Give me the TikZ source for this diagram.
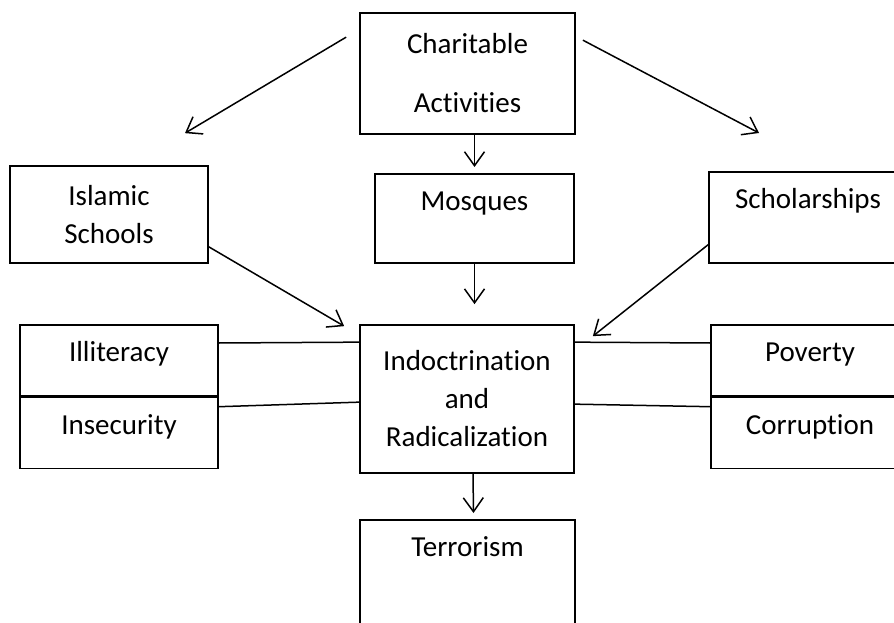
\documentclass[tikz,border=0pt]{standalone}
\usepackage{fontspec}
\setmainfont{Carlito}[Ligatures=NoCommon]
\usetikzlibrary{arrows.meta}

\begin{document}
\begin{tikzpicture}[
    x=1pt, y=-1pt,
    font=\fontsize{29}{38}\selectfont,
    box/.style={draw=black, line width=1.7pt, inner sep=0pt, align=center},
    topbox/.style={box, text height=37pt},
    side_box/.style={box, minimum width=198pt, text height=37pt, text depth=34pt},
    link/.style={draw=black, line width=1.5pt},
    arr/.style={link, -{Straight Barb[length=14pt, width=20pt, line width=1.5pt]}}
]
\useasboundingbox (0,0) rectangle (894,623);

% TOP ROW
\node[box, minimum width=215pt, minimum height=121pt] (charit) at (467.5,73.5) {Charitable\\[21pt]Activities};
\node[box, minimum width=198pt, minimum height=97pt] (islam) at (109,214.5) {Islamic\\Schools};
\node[topbox, minimum width=199pt, text depth=52pt, anchor=north] (mosq) at (474.5,173) {Mosques};
\node[topbox, minimum width=198pt, text depth=54pt, anchor=north] (schol) at (808,171) {Scholarships};

% MIDDLE ROW
\node[box, minimum width=214pt, minimum height=148pt] (indoc) at (467,399) {Indoctrination\\and\\Radicalization};
\node[side_box, anchor=north] (illit) at (119,324) {Illiteracy};
\node[side_box, anchor=north] (insec) at (illit.south) {Insecurity};
\node[side_box, anchor=north] (pover) at (810,324) {Poverty};
\node[side_box, anchor=north] (corru) at (pover.south) {Corruption};

% BOTTOM
\node[topbox, minimum width=215pt, text depth=84pt, anchor=north] (terror) at (467.5,519) {Terrorism};

% ARROWS
\draw[arr] ([xshift=-13pt, yshift=-25pt]charit.north west) -- ([xshift=76pt, yshift=32pt]islam.north);
\draw[arr] ([xshift=7pt, yshift=-28pt]charit.north east) -- ([xshift=-49pt, yshift=38pt]schol.north);
\draw[arr] (mosq.north |- charit.south) -- ([yshift=6pt]mosq.north);
\draw[arr] (mosq.south) -- ([yshift=20pt]mosq.south |- indoc.north);
\draw[arr] ([yshift=17pt]islam.south east) -- ([xshift=-15pt, yshift=-2pt]indoc.north west);
\draw[arr] ([yshift=19pt]schol.south west) -- ([xshift=18pt, yshift=-12pt]indoc.north east);
\draw[arr] ([xshift=6pt]indoc.south) -- ([xshift=6pt, yshift=6pt]terror.north);

% LINKS
\draw[link] ([yshift=-19pt]illit.north east) -- ([yshift=-18pt]indoc.north west);
\draw[link] ([yshift=-10pt]insec.north east) -- ([yshift=-78pt]indoc.north west);
\draw[link] ([yshift=-18pt]indoc.north east) -- ([yshift=-19pt]pover.north west);
\draw[link] ([yshift=-80pt]indoc.north east) -- ([yshift=-10pt]corru.north west);

\end{tikzpicture}
\end{document}
